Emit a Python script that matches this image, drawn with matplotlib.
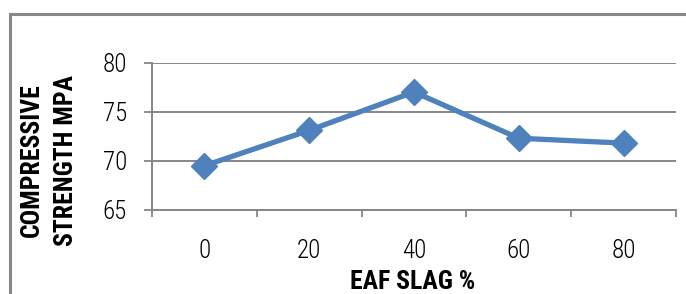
import matplotlib.pyplot as plt
from matplotlib.patches import Rectangle

# EAF slag replacement vs compressive strength
slag_pct = ['0', '20', '40', '60', '80']
strength = [69.5, 73.1, 77.0, 72.3, 71.8]
y_ticks = [65, 70, 75, 80]

plt.rcParams['font.family'] = ['Roboto Condensed', 'Liberation Sans', 'DejaVu Sans']

fig = plt.figure(figsize=(6.86, 2.94), dpi=100)
ax = fig.add_axes([152 / 686, 1 - 210 / 294, (676 - 152) / 686, (210 - 62.5) / 294])

grey = '#868686'
x = list(range(len(slag_pct)))
ax.plot(x, strength, color='#4F81BD', linewidth=3.8, marker='D',
        markersize=13, markeredgecolor='#4F81BD', zorder=3)

ax.set_xlim(-0.5, len(slag_pct) - 0.5)
ax.set_ylim(65, 80)
ax.set_yticks(y_ticks)
ax.set_yticklabels([str(v) for v in y_ticks], fontweight='light')

# category axis: tick marks between categories, labels centred
ax.set_xticks([i - 0.5 for i in range(len(slag_pct) + 1)])
ax.set_xticklabels([])
ax.set_xticks(x, minor=True)
ax.set_xticklabels(slag_pct, minor=True, fontweight='light')
ax.tick_params(axis='x', which='minor', length=0, pad=21, labelsize=18)
ax.tick_params(axis='x', which='major', length=5, width=1.3, color=grey)
ax.tick_params(axis='y', length=6, width=1.3, color=grey, pad=12, labelsize=18)

ax.grid(True, axis='y', color=grey, linewidth=1.4)
ax.set_axisbelow(True)
for s in ['top', 'right']:
    ax.spines[s].set_visible(False)
for s in ['left', 'bottom']:
    ax.spines[s].set_color(grey)
    ax.spines[s].set_linewidth(1.4)

# axis titles placed like the original Excel chart
fig.text(413 / 686, 1 - 282 / 294, 'EAF SLAG %', fontsize=18.5, fontweight='bold',
         ha='center', va='center')
fig.text(49 / 686, 1 - 160 / 294, 'COMPRESSIVE\nSTRENGTH MPA', fontsize=18.5,
         fontweight='bold', rotation=90, ha='center', va='center', linespacing=1.5)

# outer chart frame (runs off the right and bottom edges)
fig.patches.append(Rectangle((9.8 / 686, -0.1), 1.0, 1 - 13.7 / 294 + 0.1,
                             transform=fig.transFigure, fill=False,
                             edgecolor='#878787', linewidth=2.2))

fig.savefig('out.png', dpi=100)
